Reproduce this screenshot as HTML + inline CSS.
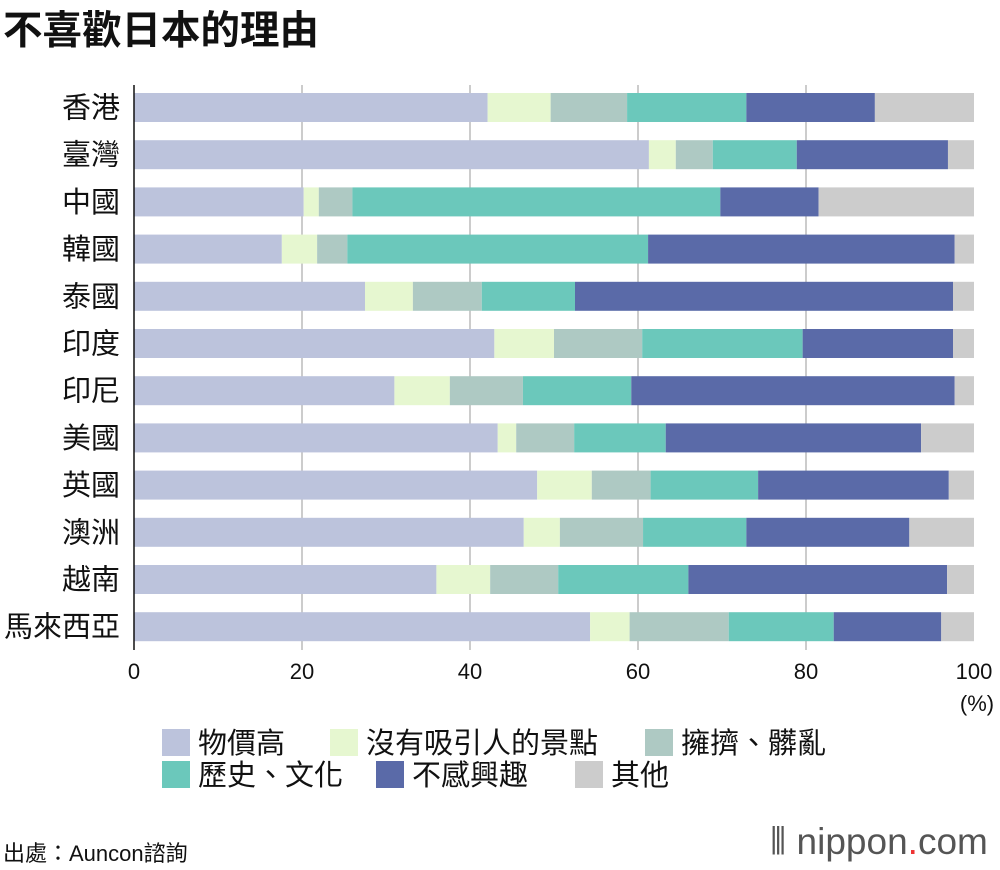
<!DOCTYPE html>
<html><head><meta charset="utf-8">
<style>
body{margin:0;width:1000px;height:870px;background:#fff;font-family:"Liberation Sans","Noto Sans CJK TC",sans-serif;overflow:hidden;position:relative}
.t{position:absolute;white-space:nowrap;color:#111}
</style></head><body>
<div class="t" style="left:3px;top:-1px;font-size:39.5px;font-weight:bold">不喜歡日本的理由</div>
<svg id="chart" width="1000" height="870" style="position:absolute;left:0;top:0"></svg>
<div class="t" style="left:3px;top:836px;font-size:22px">出處：Auncon諮詢</div>
<div class="t" style="left:770px;top:821px;font-size:37px;color:#555">⦀ nippon<span style="color:#e33">.</span>com</div>
<script>
const categories=["香港","臺灣","中國","韓國","泰國","印度","印尼","美國","英國","澳洲","越南","馬來西亞"];
const seriesNames=["物價高","沒有吸引人的景點","擁擠、髒亂","歷史、文化","不感興趣","其他"];
const s0=[42.1,61.3,20.2,17.6,27.5,42.9,31.0,43.3,48.0,46.4,36.0,54.3];
const s1=[7.5,3.2,1.8,4.2,5.7,7.1,6.6,2.2,6.5,4.3,6.4,4.7];
const s2=[9.1,4.4,4.0,3.6,8.2,10.5,8.7,6.9,7.0,9.9,8.1,11.8];
const s3=[14.2,10.0,43.8,35.8,11.1,19.1,12.9,10.9,12.8,12.3,15.5,12.5];
const s4=[15.3,18.0,11.7,36.5,45.0,17.9,38.5,30.4,22.7,19.4,30.8,12.8];
const s5=[11.8,3.1,18.5,2.3,2.5,2.5,2.3,6.3,3.0,7.7,3.2,3.9];
const ticks=[0,20,40,60,80,100];
const colors=["#bcc3dc","#e6f7d0","#aec9c3","#6bc8bb","#5a6aa8","#cccccc"];
const series=[s0,s1,s2,s3,s4,s5];
const svg=document.getElementById('chart');
const NS="http://www.w3.org/2000/svg";
const x=v=>134+v*8.4;
const y=i=>93+i*47.2;
const bh=29;
function mk(t,a){const e=document.createElementNS(NS,t);for(const k in a)e.setAttribute(k,a[k]);svg.appendChild(e);return e;}
ticks.forEach(t=>{
 if(t>0&&t<100){const g=mk('line',{x1:x(t),x2:x(t),y1:85,y2:650,stroke:'#bbb','stroke-width':1.5});
 
 }
 const l=mk('text',{x:x(t),y:679,'text-anchor':'middle','font-size':22,fill:'#111'});
 
 
 l.textContent=t;
});
const pc=mk('text',{x:977,y:711,'text-anchor':'middle','font-size':22,fill:'#111'});


pc.textContent='(%)';
categories.forEach((c,i)=>{
 let acc=0;
 series.forEach((s,k)=>{
  const r=mk('rect',{x:x(acc),y:y(i),width:s[i]*8.4,height:bh,fill:colors[k]});
  
  
  acc+=s[i];
 });
 const t=mk('text',{x:120,y:y(i)+bh/2+10,'text-anchor':'end','font-size':29,fill:'#111'});
 
 
 t.textContent=c;
});
const axis=mk('line',{x1:134,x2:134,y1:85,y2:650,stroke:'#111','stroke-width':1.5});


const leg=[[162,729],[330,729],[645,729],[162,761],[376,761],[575,761]];
seriesNames.forEach((n,k)=>{
 const r=mk('rect',{x:leg[k][0],y:leg[k][1],width:28,height:27,fill:colors[k]});
 
 
 const t=mk('text',{x:leg[k][0]+36,y:leg[k][1]+24,'font-size':29,fill:'#111'});
 
 
 t.textContent=n;
});
</script>
</body></html>
